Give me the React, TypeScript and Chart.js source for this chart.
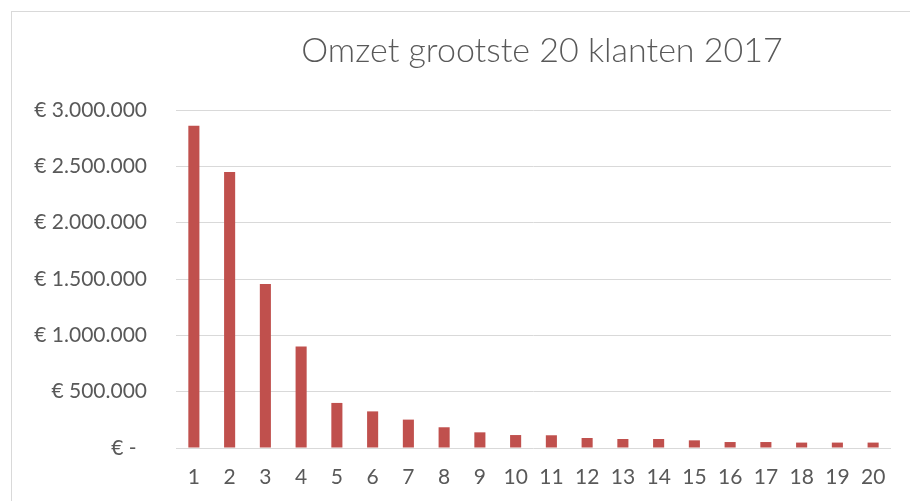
import React, { useEffect, useRef } from "react";
import { Chart, registerables } from "chart.js";

Chart.register(...registerables);

const chartTitle = "Omzet grootste 20 klanten 2017";
const categories = ["1", "2", "3", "4", "5", "6", "7", "8", "9", "10", "11", "12", "13", "14", "15", "16", "17", "18", "19", "20"];
const revenue = [2860000, 2450000, 1456000, 900000, 400000, 325000, 252000, 184000, 139000, 115000, 113000, 89000, 80000, 80000, 68000, 53000, 53000, 48000, 48000, 48000];
const yTickValues = [0, 500000, 1000000, 1500000, 2000000, 2500000, 3000000];
const yTickLabels = ["€ -\u2002", "€ 500.000", "€ 1.000.000", "€ 1.500.000", "€ 2.000.000", "€ 2.500.000", "€ 3.000.000"];

const CW = 1060;
const CH = 500;

const titlePlugin = {
  id: "excelTitle",
  afterDraw(chart: any) {
    const ctx = chart.ctx;
    ctx.save();
    ctx.fillStyle = "#595959";
    ctx.font = "300 34px Lato";
    ctx.textAlign = "center";
    ctx.textBaseline = "alphabetic";
    ctx.fillText(chartTitle, 530, 49.5);
    ctx.restore();
  },
};

export default function App() {
  const ref = useRef<HTMLCanvasElement | null>(null);

  useEffect(() => {
    if (!ref.current) return;
    const chart = new Chart(ref.current, {
      type: "bar",
      data: {
        labels: categories,
        datasets: [
          {
            label: "Omzet",
            data: revenue,
            backgroundColor: "#c0504d",
            borderWidth: 0,
            barPercentage: 0.31,
            categoryPercentage: 1,
          },
        ],
      },
      options: {
        responsive: false,
        animation: false,
        devicePixelRatio: 1,
        layout: { padding: { left: 0, right: CW - 879, top: 98, bottom: 0 } },
        plugins: {
          legend: { display: false },
          tooltip: { enabled: false },
          title: { display: false },
        },
        scales: {
          x: {
            grid: { display: false },
            border: { display: false },
            ticks: {
              color: "#595959",
              font: { family: "Lato", size: 21 },
              padding: 9,
              maxRotation: 0,
              autoSkip: false,
            },
            afterFit: (s: any) => {
              s.height = CH - 436;
            },
          },
          y: {
            min: yTickValues[0],
            max: yTickValues[yTickValues.length - 1],
            afterBuildTicks: (s: any) => {
              s.ticks = yTickValues.map((v) => ({ value: v }));
            },
            grid: { color: "#d9d9d9", lineWidth: 1, drawTicks: false },
            border: { display: false },
            ticks: {
              color: "#595959",
              font: { family: "Lato", size: 21 },
              padding: 29,
              callback: (_v: any, i: number) => yTickLabels[i],
            },
            afterFit: (s: any) => {
              s.width = 164;
            },
          },
        },
      },
      plugins: [titlePlugin],
    });
    return () => chart.destroy();
  }, []);

  return (
    <div
      style={{
        position: "fixed",
        left: 11,
        top: 11,
        width: CW,
        height: CH,
        border: "1px solid #d9d9d9",
        background: "#ffffff",
      }}
    >
      <canvas ref={ref} width={CW} height={CH} style={{ display: "block", width: CW, height: CH }} />
    </div>
  );
}
